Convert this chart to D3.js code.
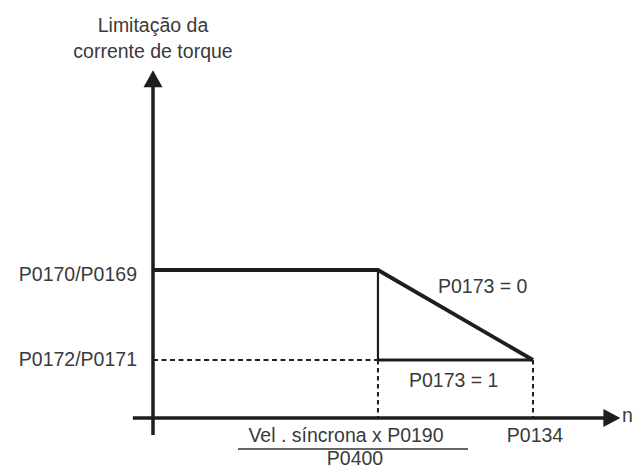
<!DOCTYPE html>
<html>
<head>
<meta charset="utf-8">
<script src="https://cdn.jsdelivr.net/npm/d3@7"></script>
<style>
  html, body { margin: 0; padding: 0; background: #fff; }
  svg text { font-family: "Liberation Sans", Arial, sans-serif; fill: #3a3a3a; }
</style>
</head>
<body>
<svg id="chart" width="636" height="468"></svg>
<script>
// ---- data (normalised schematic values) ----
const yAxisTitle = ["Limitação da", "corrente de torque"];
const xAxisName = "n";
const yLevelLabels = ["P0170/P0169", "P0172/P0171"];
const yLevelValues = [1.0, 0.392];
const xBreakLabelNum = "Vel . síncrona x P0190";
const xBreakLabelDen = "P0400";
const xBreakValue = 0.592;
const xEndLabel = "P0134";
const xEndValue = 1.0;
const seriesNames = ["P0173 = 0", "P0173 = 1"];
const series0x = [0, 0.592, 1.0];
const series0y = [1.0, 1.0, 0.392];
const series1x = [0.592, 0.592, 1.0];
const series1y = [1.0, 0.392, 0.392];
const xAxisMax = 1.23;
const yAxisMax = 2.35;

const svg = d3.select("#chart");
const x = d3.scaleLinear().domain([0, 1]).range([153, 533]);
const y = d3.scaleLinear().domain([0, 1]).range([418, 270]);

const dark = "#1e1e1e";

// axes
svg.append("line").attr("x1", x(-0.053)).attr("x2", x(xAxisMax) - 14)
  .attr("y1", y(0)).attr("y2", y(0)).attr("stroke", dark).attr("stroke-width", 3.5);
svg.append("line").attr("x1", x(0)).attr("x2", x(0))
  .attr("y1", y(-0.115)).attr("y2", y(yAxisMax) + 15).attr("stroke", dark).attr("stroke-width", 3.5);
// arrowheads
const xt = x(xAxisMax), yt = y(yAxisMax);
svg.append("path").attr("d", `M${xt},${y(0)} L${xt - 17},${y(0) - 9} L${xt - 17},${y(0) + 9} Z`).attr("fill", dark);
svg.append("path").attr("d", `M${x(0)},${yt} L${x(0) - 9.5},${yt + 17} L${x(0) + 9.5},${yt + 17} Z`).attr("fill", dark);

// dashed guide lines
const dash = "5,3.5";
svg.append("line").attr("x1", x(0)).attr("x2", x(xBreakValue))
  .attr("y1", y(yLevelValues[1])).attr("y2", y(yLevelValues[1]))
  .attr("stroke", dark).attr("stroke-width", 2).attr("stroke-dasharray", dash);
[xBreakValue, xEndValue].forEach(v => {
  svg.append("line").attr("x1", x(v)).attr("x2", x(v))
    .attr("y1", y(yLevelValues[1])).attr("y2", y(0))
    .attr("stroke", dark).attr("stroke-width", 2).attr("stroke-dasharray", "4.5,3.5");
});

// series 1 (P0173 = 1)
svg.append("line").attr("x1", x(series1x[0])).attr("x2", x(series1x[1]))
  .attr("y1", y(series1y[0])).attr("y2", y(series1y[1]))
  .attr("stroke", dark).attr("stroke-width", 2.2);
svg.append("line").attr("x1", x(series1x[1])).attr("x2", x(series1x[2]))
  .attr("y1", y(series1y[1])).attr("y2", y(series1y[2]))
  .attr("stroke", dark).attr("stroke-width", 3.2);

// series 0 (P0173 = 0)
const line = d3.line().x(d => x(d[0])).y(d => y(d[1]));
svg.append("path").datum(d3.zip(series0x, series0y)).attr("d", line)
  .attr("fill", "none").attr("stroke", dark).attr("stroke-width", 3.8)
  .attr("stroke-linejoin", "miter");

const fs = 19.5;
// y axis title
svg.append("text").attr("x", x(0)).attr("y", 32).attr("text-anchor", "middle")
  .attr("font-size", fs).text(yAxisTitle[0]);
svg.append("text").attr("x", x(0)).attr("y", 58).attr("text-anchor", "middle")
  .attr("font-size", fs).text(yAxisTitle[1]);

// y level labels
yLevelLabels.forEach((t, i) => {
  svg.append("text").attr("x", 137).attr("y", y(yLevelValues[i]) + (i === 0 ? 11 : 6))
    .attr("text-anchor", "end").attr("font-size", fs).text(t);
});

// series labels
svg.append("text").attr("x", 438).attr("y", 293).attr("font-size", fs).text(seriesNames[0]);
svg.append("text").attr("x", 409).attr("y", 387).attr("font-size", fs).text(seriesNames[1]);

// x labels
svg.append("text").attr("x", x(xEndValue) + 2).attr("y", 442).attr("text-anchor", "middle")
  .attr("font-size", fs).text(xEndLabel);
svg.append("text").attr("x", 346).attr("y", 442).attr("text-anchor", "middle")
  .attr("font-size", fs).text(xBreakLabelNum);
svg.append("line").attr("x1", 238).attr("x2", 468).attr("y1", 449).attr("y2", 449)
  .attr("stroke", "#333").attr("stroke-width", 1.3);
svg.append("text").attr("x", 355).attr("y", 465).attr("text-anchor", "middle")
  .attr("font-size", fs).text(xBreakLabelDen);
svg.append("text").attr("x", 622).attr("y", 422).attr("font-size", fs).text(xAxisName);
</script>
</body>
</html>
